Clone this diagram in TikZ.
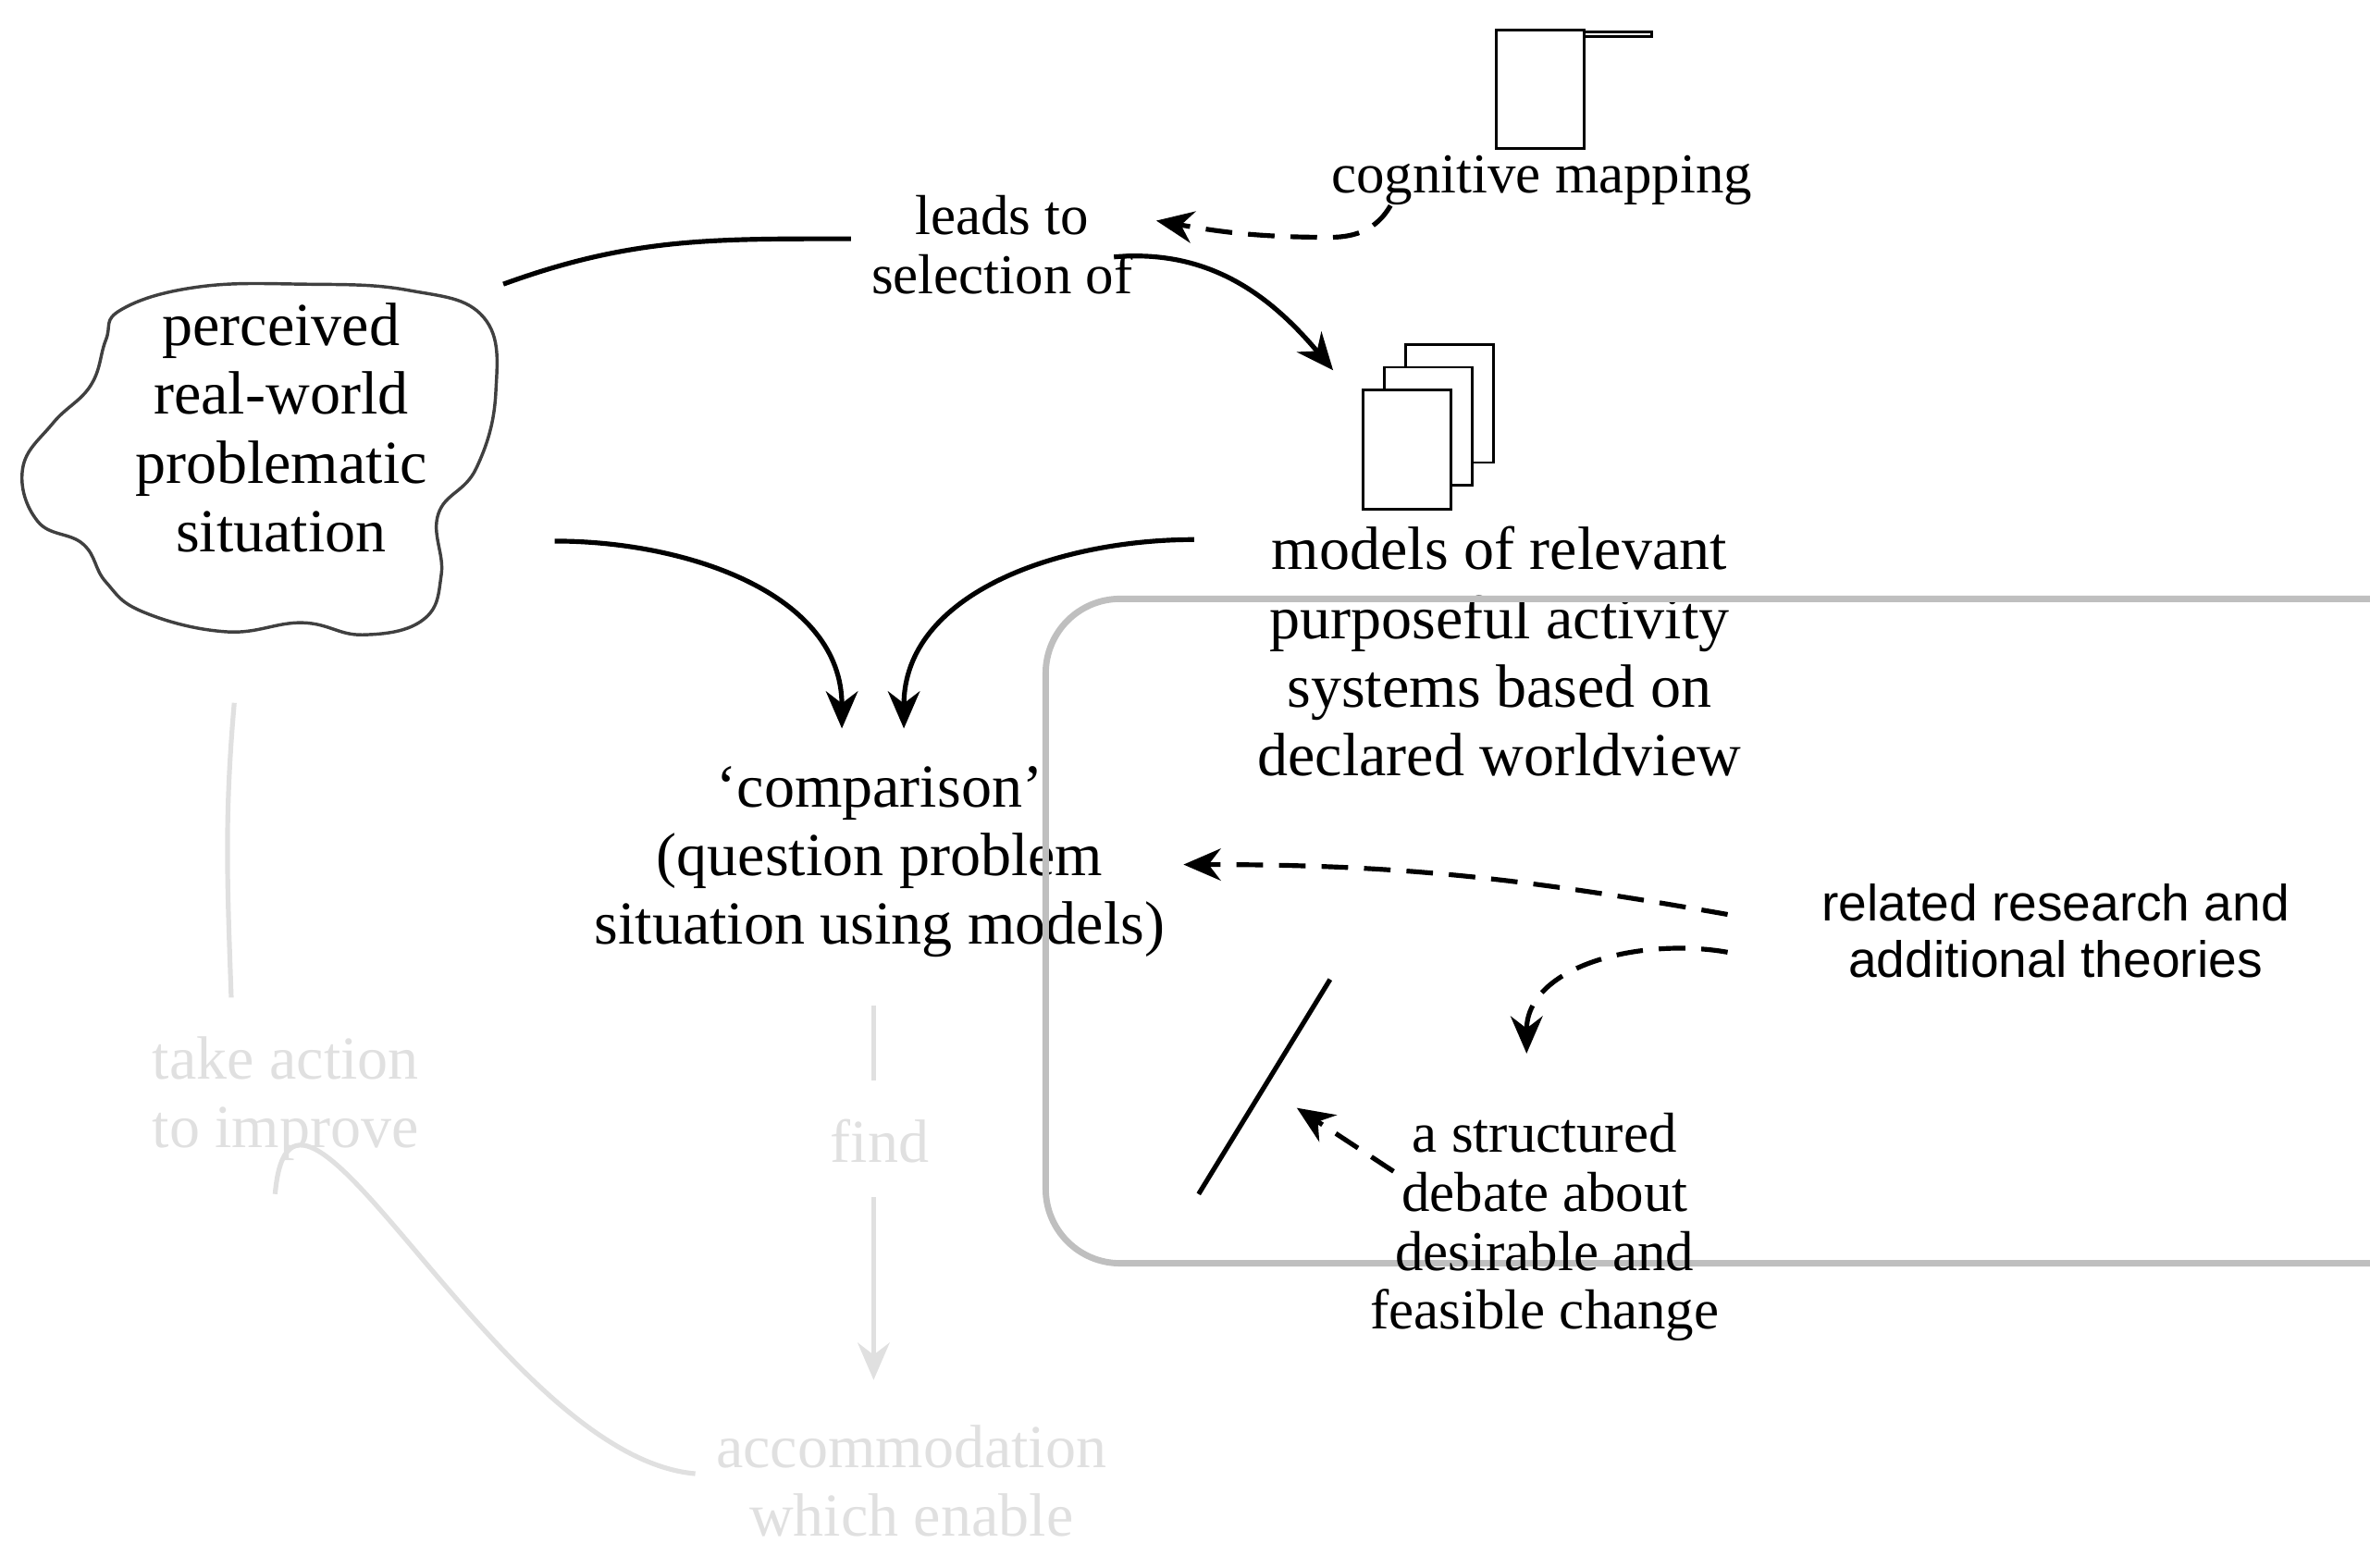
\documentclass[tikz,border=0pt]{standalone}
\usepackage{fontspec}
\setmainfont{Liberation Serif}
\newfontfamily\sansf{Liberation Sans}
\usetikzlibrary{arrows.meta}
\begin{document}
\begin{tikzpicture}[x=0.01cm,y=-0.01cm,
  big/.style={align=center,font=\fontsize{11.5}{12.9}\selectfont},
  mid/.style={align=center,font=\fontsize{10.6}{11.1}\selectfont},
  ghost/.style={text=black!12},
  arr/.style={-{Stealth[length=7pt,width=6pt]},line width=0.9pt},
  darr/.style={arr,dash pattern=on 5pt off 3pt},
  gl/.style={draw=black!12,line width=0.9pt},
  page/.style={draw,fill=white,line width=0.5pt}]
\useasboundingbox (0,0) rectangle (1568,1037);
% cloud
\draw[line width=0.6pt,black!75] plot[smooth cycle,tension=0.7] coordinates{
 (80,205) (130,190) (200,188) (270,192) (320,210) (328,260) (315,310) (290,340) (292,380) (280,410) (240,420) (200,412) (150,418) (95,405) (70,385) (55,360) (25,345) (15,310) (35,280) (60,255) (70,225)};
\node[big] (cloud) at (186,283) {perceived\\real-world\\problematic\\situation};
\node[mid] (leads) at (663,162) {leads to\\selection of};
\node[page,minimum width=58\pgflinewidth,inner sep=0,anchor=north west] at (990,20) {};
\draw[page] (990,20) rectangle (1048,98);
\node[mid] (cog) at (1020,119) {cognitive mapping};
\coordinate (c1) at (920,136);
\coordinate (c2) at (765,146);
\draw[darr] (c1) to[out=-120,in=0] (880,157) to[out=180,in=-10] (c2);
\coordinate (p1) at (333,188); \coordinate (p2) at (563,158);
\draw[line width=0.9pt] (p1) to[out=20,in=180] (p2);
\coordinate (q1) at (737,170); \coordinate (q2) at (882,245);
\draw[arr] (q1) to[out=5,in=130] (q2);
\draw[page] (930,228) rectangle (988,306);
\draw[page] (916,243) rectangle (974,321);
\draw[page] (902,258) rectangle (960,337);
\node[big] (models) at (992,431) {models of relevant\\purposeful activity\\systems based on\\declared worldview};
\node[big] (comp) at (582,570) {`comparison'\\(question problem\\situation using models)};
\coordinate (a1) at (367,358); \coordinate (a2) at (557,482);
\coordinate (b1) at (790,357); \coordinate (b2) at (598,482);
\draw[arr] (a1) to[out=0,in=90] (a2);
\draw[arr] (b1) to[out=180,in=90] (b2);
\node[draw=black!25,line width=1.2pt,rounded corners=14pt,minimum width=380,minimum height=125,align=center,font=\sansf\fontsize{9.6}{10.6}\selectfont] (rel) at (1360,616) {related research and\\additional theories};
\coordinate (r1) at (1143,605); \coordinate (r2) at (783,572);
\draw[darr] (r1) to[out=170,in=0] (r2);
\coordinate (s1) at (1143,630); \coordinate (s2) at (1010,697);
\draw[darr] (s1) to[out=170,in=90] (s2);
\coordinate (t1) at (880,648); \coordinate (t2) at (793,790);
\draw[line width=0.9pt] (t1) -- (t2);
\node[mid] (deb) at (1022,812) {a structured\\debate about\\desirable and\\feasible change};
\coordinate (u1) at (922,775); \coordinate (u2) at (858,733);
\draw[darr] (u1) -- (u2);
% ghost parts
\node[big,ghost] (act) at (189,727) {take action\\to improve};
\node[big,ghost] (find) at (582,755) {find};
\node[big,ghost] (acc) at (603,980) {accommodation\\which enable};
\coordinate (g1) at (155,465); \coordinate (g2) at (153,660);
\draw[gl] (g1) to[out=-95,in=92] (g2);
\coordinate (h1) at (182,790); \coordinate (h2) at (460,975);
\draw[gl] (h1) to[out=85,in=175] (h2);
\coordinate (f1) at (578,665); \coordinate (f2) at (578,715);
\draw[gl] (f1) -- (f2);
\coordinate (k1) at (578,792); \coordinate (k2) at (578,913);
\draw[gl,-{Stealth[length=7pt,width=6pt]}] (k1) -- (k2);
\end{tikzpicture}
\end{document}
